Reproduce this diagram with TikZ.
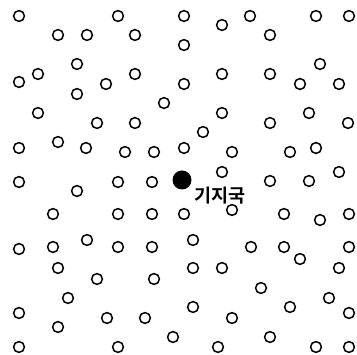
\documentclass[tikz,border=0pt]{standalone}
\usepackage{fontspec}
\newfontfamily\kofont{Noto Sans CJK KR}[BoldFont={Noto Sans CJK KR Bold}]
\begin{document}
\begin{tikzpicture}[x=1pt,y=-1pt,
  terminal/.style={circle,draw=black,line width=1.5pt,minimum size=10.8pt,inner sep=0pt},
  base/.style={circle,fill=black,minimum size=19pt,inner sep=0pt}]
\useasboundingbox (0,0) rectangle (357,355);
\foreach \px/\py [count=\i] in {
19/16,118/16,184/16,250/16,316/16,349/16,
58/35,87/35,135/35,222/25,270/35,184/45,
77/64,320/64,
38/74,135/74,222/74,270/74,
19/82,106/84,184/84,300/84,339/84,
77/94,164/103,
38/113,222/113,309/113,
97/123,135/123,270/123,348/123,
203/132,
58/142,19/148,86/148,184/148,316/148,
125/152,154/152,232/152,290/152,
222/172,339/172,
19/182,118/182,152/182,270/181,309/181,
77/191,
53/214,118/214,152/214,184/214,232/210,284/214,349/214,320/220,
87/240,193/240,
19/249,53/247,118/247,152/247,251/247,284/247,349/247,
300/259,
58/268,193/268,222/268,339/268,
97/279,154/279,
261/288,
68/298,329/298,
193/307,290/307,
19/313,349/313,
107/318,145/318,232/318,
58/327,
173/337,270/337,
19/347,118/347,218/347,316/347,349/347}
  \node[terminal] (t\i) at (\px,\py) {};
\node[base] (bs) at (182,180) {};
\node[font=\kofont\bfseries\fontsize{18.5}{20}\selectfont,inner sep=0pt] (lbl) at (220,195.5) {기지국};
\end{tikzpicture}
\end{document}
